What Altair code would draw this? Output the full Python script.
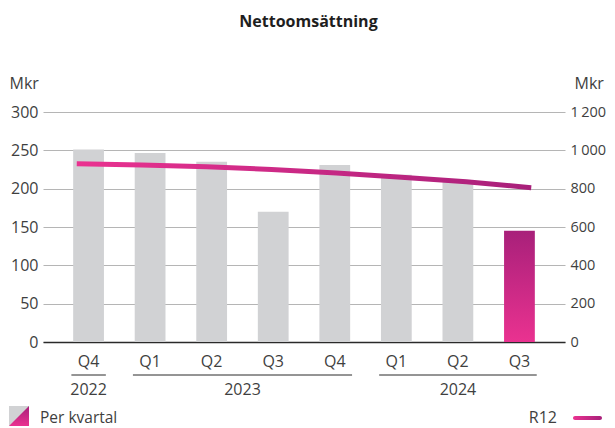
import altair as alt
import pandas as pd

# ---- data ----
quarters = ["Q4 2022", "Q1 2023", "Q2 2023", "Q3 2023", "Q4 2023", "Q1 2024", "Q2 2024", "Q3 2024"]
per_kvartal = [251, 246.5, 235, 170, 231, 218, 211, 145]
r12 = [930, 924, 914, 900, 882, 860, 836, 805]
group_years = ["2022", "2023", "2024"]
group_start = [0, 1, 5]
group_end = [0, 4, 7]
left_ticks = [0, 50, 100, 150, 200, 250, 300]
right_ticks = [0, 200, 400, 600, 800, 1000, 1200]

FONT = "Open Sans"
TXT = "#3f3f3f"
GRAY = "#d1d2d4"
PINK = "#ea3290"
PURPLE = "#a8207a"
W, H = 522, 230

df = pd.DataFrame({"kvartal": quarters, "per_kvartal": per_kvartal, "r12": r12})
groups = pd.DataFrame({"year": group_years, "start": group_start, "end": group_end})
one = pd.DataFrame({"k": [0]})

grad_vertical = alt.Gradient(
    gradient="linear",
    stops=[alt.GradientStop(color=PURPLE, offset=0), alt.GradientStop(color=PINK, offset=1)],
    x1=0, x2=0, y1=0, y2=1,
)
grad_horizontal = alt.Gradient(
    gradient="linear",
    stops=[alt.GradientStop(color=PINK, offset=0), alt.GradientStop(color=PURPLE, offset=1)],
    x1=0, x2=1, y1=0, y2=0,
)

bars = alt.Chart(df).mark_bar().encode(
    x=alt.X(
        "kvartal:N",
        sort=quarters,
        scale=alt.Scale(domain=quarters, paddingInner=0.5, paddingOuter=0.49),
        axis=alt.Axis(
            title=None,
            labelExpr="substring(datum.label, 0, 2)",
            labelAngle=0,
            labelFont=FONT,
            labelFontSize=16,
            labelColor=TXT,
            labelBaseline="middle",
            labelPadding=19,
            ticks=False,
            tickSize=0,
            domain=True,
            domainColor="#2a2a2a",
            domainWidth=1.5,
            grid=False,
        ),
    ),
    y=alt.Y(
        "per_kvartal:Q",
        scale=alt.Scale(domain=[0, 300], nice=False),
        axis=alt.Axis(
            title="Mkr",
            titleAngle=0,
            titleAlign="left",
            titleBaseline="middle",
            titleX=-34,
            titleY=-29,
            titleFont=FONT,
            titleFontSize=16,
            titleFontWeight="normal",
            titleColor=TXT,
            values=left_ticks,
            ticks=False,
            tickSize=0,
            domain=False,
            labelPadding=5,
            labelFont=FONT,
            labelFontSize=16,
            labelColor=TXT,
            grid=True,
            gridColor="#b5b5b5",
            gridWidth=1,
        ),
    ),
    color=alt.condition(alt.datum.kvartal == "Q3 2024", alt.value(grad_vertical), alt.value(GRAY)),
)

line = alt.Chart(df).mark_line(strokeWidth=5, stroke=grad_horizontal, strokeCap="butt").encode(
    x=alt.X("kvartal:N", sort=quarters, scale=alt.Scale(type="point", domain=quarters, padding=0.52), axis=None),
    y=alt.Y(
        "r12:Q",
        scale=alt.Scale(domain=[0, 1200], nice=False),
        axis=alt.Axis(
            orient="right",
            title="Mkr",
            titleAngle=0,
            titleAlign="left",
            titleBaseline="middle",
            titleX=9,
            titleY=-29,
            titleFont=FONT,
            titleFontSize=16,
            titleFontWeight="normal",
            titleColor=TXT,
            values=right_ticks,
            labelExpr="replace(format(datum.value, ','), /,/g, '\u2009')",
            ticks=False,
            tickSize=0,
            domain=False,
            labelPadding=5,
            labelFont=FONT,
            labelFontSize=14.5,
            labelColor=TXT,
            grid=False,
        ),
    ),
)

gx = alt.Scale(domain=[-0.741, 7.739], nice=False, zero=False)
group_rules = alt.Chart(groups).transform_calculate(
    x0="datum.start - 0.28", x1="datum.end + 0.28"
).mark_rule(color="#2a2a2a", strokeWidth=1).encode(
    x=alt.X("x0:Q", scale=gx, axis=None),
    x2="x1:Q",
    y=alt.value(263),
)
group_text = alt.Chart(groups).transform_calculate(
    mid="(datum.start + datum.end) / 2"
).mark_text(font=FONT, fontSize=16, color=TXT, baseline="middle", align="center").encode(
    x=alt.X("mid:Q", scale=gx, axis=None),
    y=alt.value(278),
    text="year:N",
)

title = alt.Chart(one).mark_text(
    text="Nettoomsättning", font=FONT, fontSize=16, fontWeight="bold", color="#1e1e1e",
    align="center", baseline="middle",
).encode(x=alt.value(265.5), y=alt.value(-90))

leg_sq = alt.Chart(one).mark_square(size=400, color=GRAY, filled=True, opacity=1).encode(
    x=alt.value(-24), y=alt.value(304)
)
leg_tri = alt.Chart(one).mark_point(
    shape="M 1 -1 L 1 1 L -1 1 Z", size=400, filled=True, fill=grad_vertical, strokeWidth=0, opacity=1
).encode(x=alt.value(-24), y=alt.value(304))
leg_txt1 = alt.Chart(one).mark_text(
    text="Per kvartal", font=FONT, fontSize=15.5, color=TXT, align="left", baseline="middle"
).encode(x=alt.value(-3), y=alt.value(306))
leg_txt2 = alt.Chart(one).mark_text(
    text="R12", font=FONT, fontSize=16, color=TXT, align="right", baseline="middle"
).encode(x=alt.value(514), y=alt.value(306))
leg_line = alt.Chart(one).mark_rect(cornerRadius=2, fill=grad_horizontal).encode(
    x=alt.value(530), x2=alt.value(559), y=alt.value(304), y2=alt.value(308)
)

chart = alt.layer(
    bars, line, group_rules, group_text, title, leg_sq, leg_tri, leg_txt1, leg_txt2, leg_line
).resolve_scale(x="independent", y="independent").properties(
    width=W,
    height=H,
    autosize=alt.AutoSizeParams(type="none"),
    padding={"left": 35, "top": 104, "right": 42, "bottom": 86},
).configure_view(stroke=None)

chart.save("out.html", embed_options={"renderer": "svg", "actions": False})
